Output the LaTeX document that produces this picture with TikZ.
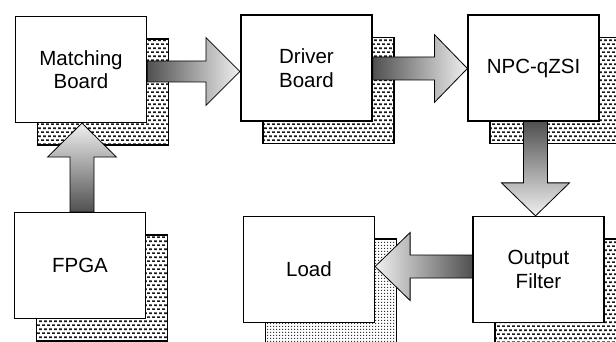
\documentclass[tikz,border=0pt]{standalone}
\usepackage{fontspec}
\setmainfont{Liberation Sans}
\usetikzlibrary{calc,patterns}
\pgfdeclarepatternformonly{dashbrick}{\pgfpointorigin}{\pgfqpoint{4.6pt}{8.4pt}}{\pgfqpoint{4.6pt}{8.4pt}}{%
  \pgfpathrectangle{\pgfqpoint{0pt}{0pt}}{\pgfqpoint{3pt}{1.8pt}}%
  \pgfpathrectangle{\pgfqpoint{2.3pt}{4.2pt}}{\pgfqpoint{3pt}{1.8pt}}%
  \pgfusepath{fill}}
\pgfdeclarepatternformonly{finedots}{\pgfpointorigin}{\pgfqpoint{3pt}{3pt}}{\pgfqpoint{3pt}{3pt}}{%
  \pgfpathrectangle{\pgfqpoint{0pt}{0pt}}{\pgfqpoint{1.6pt}{1.6pt}}%
  \pgfusepath{fill}}
\definecolor{dk}{HTML}{505050}
\definecolor{lt}{HTML}{F0F0F0}
\begin{document}
\begin{tikzpicture}[x=1pt,y=-1pt,
  box/.style={draw, line width=1.2pt, fill=white, minimum width=131pt, minimum height=106pt,
    inner sep=0pt, align=center, font=\fontsize{20.5}{23.5}\selectfont},
  shadowbox/.style={draw, line width=1.1pt, preaction={fill=white}, pattern=dashbrick, pattern color=black!90},
  shadowdots/.style={draw, line width=1.1pt, preaction={fill=white}, pattern=finedots, pattern color=black!80},
  arrowshape/.style={draw=black, line width=0.8pt}]
\clip (0,0) rectangle (616,342);
\useasboundingbox (0,0) rectangle (616,342);
\fill[white] (0,0) rectangle (616,342);

\path
  (81,69.5) coordinate (cmb)
  (306.5,68) coordinate (cdb)
  (533.5,68) coordinate (cnpc)
  (538.5,269.5) coordinate (cof)
  (309,269.5) coordinate (cld)
  (80,265.5) coordinate (cfp);

% shadows
\foreach \c in {cmb,cdb,cnpc,cof,cfp}{
  \draw[shadowbox] ($(\c)+(-65.5+22,-53+22.5)$) rectangle ($(\c)+(65.5+22,53+22.5)$);
}
\draw[shadowdots] ($(cld)+(-65.5+22,-53+22.5)$) rectangle ($(cld)+(65.5+22,53+22.5)$);

% boxes
\node[box] (mb) at (cmb) {Matching\\Board};
\node[box] (db) at (cdb) {Driver\\Board};
\node[box] (npc) at (cnpc) {NPC-qZSI};
\node[box] (of) at (cof) {Output\\Filter};
\node[box] (ld) at (cld) {Load};
\node[box] (fp) at (cfp) {FPGA};

% arrow MB -> DB
\coordinate (t1) at ($(db.west)+(-0.5,3.5)$);
\coordinate (h1) at ($(t1)+(-34,0)$);
\draw[arrowshape, left color=dk, right color=lt]
  ($(mb.east|-t1)+(0,-10.5)$) -- ($(h1)+(0,-10.5)$) -- ($(h1)+(0,-34)$) -- (t1)
  -- ($(h1)+(0,34)$) -- ($(h1)+(0,10.5)$) -- ($(mb.east|-t1)+(0,10.5)$) -- cycle;

% arrow DB -> NPC
\coordinate (t2) at ($(npc.west)+(0,0.5)$);
\coordinate (h2) at ($(t2)+(-33,0)$);
\draw[arrowshape, left color=dk, right color=lt]
  ($(db.east|-t2)+(0,-11.5)$) -- ($(h2)+(0,-11.5)$) -- ($(h2)+(0,-34)$) -- (t2)
  -- ($(h2)+(0,34)$) -- ($(h2)+(0,11.5)$) -- ($(db.east|-t2)+(0,11.5)$) -- cycle;

% arrow NPC -> OF (down)
\coordinate (t3) at ($(of.north)+(-3,0)$);
\coordinate (h3) at ($(t3)+(0,-33)$);
\draw[arrowshape, top color=dk, bottom color=lt]
  ($(t3|-npc.south)+(-12,0)$) -- ($(h3)+(-12,0)$) -- ($(h3)+(-34,0)$) -- (t3)
  -- ($(h3)+(34,0)$) -- ($(h3)+(12,0)$) -- ($(t3|-npc.south)+(12,0)$) -- cycle;

% arrow OF -> Load (left)
\coordinate (t4) at ($(ld.east)+(0,-3)$);
\coordinate (h4) at ($(t4)+(35,0)$);
\draw[arrowshape, right color=dk, left color=lt]
  ($(of.west|-t4)+(0,-11.5)$) -- ($(h4)+(0,-11.5)$) -- ($(h4)+(0,-34)$) -- (t4)
  -- ($(h4)+(0,34)$) -- ($(h4)+(0,11.5)$) -- ($(of.west|-t4)+(0,11.5)$) -- cycle;

% arrow FPGA -> MB (up)
\coordinate (t5) at ($(mb.south)+(1,0)$);
\coordinate (h5) at ($(t5)+(0,34)$);
\draw[arrowshape, bottom color=dk, top color=lt]
  ($(t5|-fp.north)+(-12,0)$) -- ($(h5)+(-12,0)$) -- ($(h5)+(-34.5,0)$) -- (t5)
  -- ($(h5)+(34.5,0)$) -- ($(h5)+(12,0)$) -- ($(t5|-fp.north)+(12,0)$) -- cycle;
\end{tikzpicture}
\end{document}
